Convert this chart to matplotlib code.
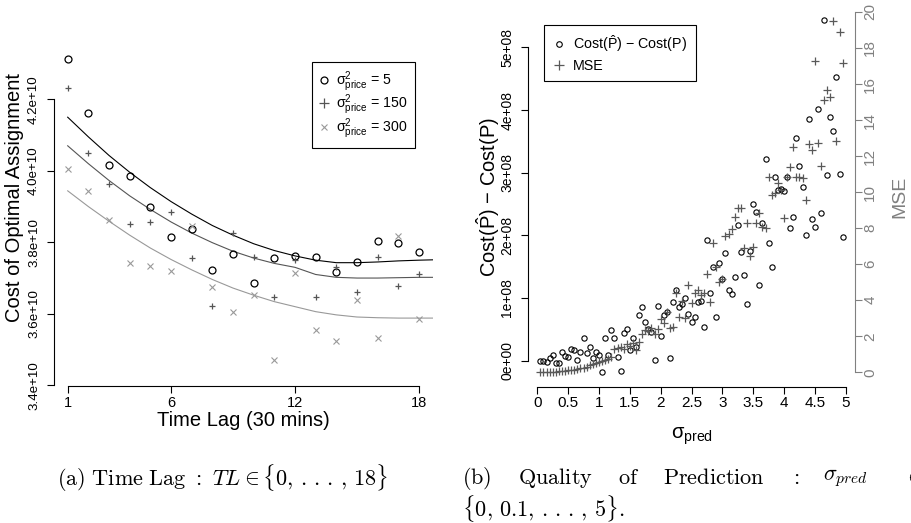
import numpy as np
import matplotlib.pyplot as plt
from matplotlib.lines import Line2D

plt.rcParams['font.family'] = ['Liberation Sans', 'DejaVu Sans']
plt.rcParams['mathtext.fontset'] = 'custom'
plt.rcParams['mathtext.rm'] = 'Liberation Sans'
plt.rcParams['mathtext.it'] = 'Liberation Sans:italic'
plt.rcParams['mathtext.bf'] = 'Liberation Sans:bold'

# ---- (a) time lag, cost in units of 1e10
time_lag = np.arange(1, 19)
cost_var5 = [4.314, 4.161, 4.016, 3.986, 3.900, 3.815, 3.837, 3.723, 3.768,
             3.686, 3.755, 3.763, 3.758, 3.717, 3.744, 3.803, 3.798, 3.774]
cost_var150 = [4.232, 4.050, 3.964, 3.851, 3.857, 3.886, 3.757, 3.623, 3.827,
               3.759, 3.648, 3.751, 3.648, 3.732, 3.662, 3.760, 3.679, 3.710]
cost_var300 = [4.006, 3.944, 3.862, 3.742, 3.734, 3.719, 3.847, 3.674, 3.604,
               3.653, 3.470, 3.715, 3.555, 3.524, 3.638, 3.532, 3.817, 3.585]

# smoothed curves
curve_x = [1, 2, 3, 4, 5, 6, 7, 8, 9, 10, 11, 12, 13, 14, 15, 16, 17, 18, 18.68]
fit_var5 = [4.150, 4.095, 4.043, 3.996, 3.953, 3.914, 3.879, 3.847, 3.820, 3.796,
            3.777, 3.762, 3.750, 3.743, 3.743, 3.745, 3.748, 3.750, 3.751]
fit_var150 = [4.070, 4.020, 3.973, 3.930, 3.892, 3.857, 3.826, 3.799, 3.775, 3.756,
              3.741, 3.730, 3.710, 3.702, 3.700, 3.700, 3.701, 3.702, 3.702]
fit_var300 = [3.944, 3.900, 3.859, 3.820, 3.784, 3.752, 3.723, 3.696, 3.672, 3.652,
              3.634, 3.620, 3.606, 3.597, 3.591, 3.589, 3.588, 3.588, 3.588]

# ---- (b) quality of prediction
sigma_pred = np.round(np.arange(1, 100) * 0.05, 2)
# Cost(P^) - Cost(P), units of 1e8
cost_gap = [0.000, 0.000, -0.016, 0.048, 0.085, -0.032, -0.037, 0.144, 0.075, 0.064,
            0.192, 0.170, 0.016, 0.133, 0.357, 0.117, 0.224, 0.048, 0.144, 0.085,
            -0.176, 0.367, 0.091, 0.490, 0.357, 0.059, -0.160, 0.437, 0.506, 0.176,
            0.367, 0.213, 0.724, 0.863, 0.618, 0.506, 0.450, 0.005, 0.873, 0.389,
            0.735, 0.783, 0.048, 0.943, 1.129, 0.852, 0.905, 1.006, 0.740, 0.618,
            0.698, 0.943, 0.953, 0.543, 1.928, 1.076, 1.502, 0.703, 1.555, 1.299,
            1.725, 1.129, 1.060, 1.337, 2.162, 1.741, 1.368, 0.911, 1.757, 2.508,
            2.370, 1.203, 2.194, 3.216, 1.885, 1.491, 2.929, 2.716, 2.737, 2.710,
            2.934, 2.114, 2.290, 3.557, 3.099, 2.769, 2.013, 3.860, 2.263, 2.130,
            4.020, 2.359, 5.437, 2.961, 3.882, 3.663, 4.521, 2.987, 1.976]
mse = [0.00, 0.00, 0.01, 0.02, 0.03, 0.04, 0.05, 0.06, 0.08, 0.10,
       0.12, 0.15, 0.18, 0.22, 0.26, 0.32, 0.40, 0.45, 0.50, 0.58,
       0.62, 0.70, 0.72, 0.85, 1.30, 1.35, 1.40, 1.30, 1.55, 1.45,
       1.60, 1.25, 1.70, 2.10, 2.35, 2.30, 2.45, 2.15, 2.40, 2.95,
       2.76, 3.37, 2.44, 2.50, 4.38, 3.05, 3.96, 3.00, 4.85, 3.83,
       4.38, 4.57, 4.29, 4.38, 5.46, 3.92, 7.16, 5.86, 5.03, 5.16,
       7.57, 7.66, 7.94, 8.64, 9.10, 9.10, 6.88, 8.31, 6.46, 6.98,
       8.31, 8.83, 8.09, 8.01, 10.82, 9.84, 9.97, 10.49, 10.12, 8.55,
       10.82, 11.38, 12.51, 10.82, 10.82, 10.77, 9.57, 12.67, 12.34, 17.28,
       12.71, 11.47, 15.12, 15.67, 15.30, 19.52, 12.84, 18.87, 17.19]

W, H = 911, 523


def fx(px):
    return px / W


def fy(py):
    return 1 - py / H


fig = plt.figure(figsize=(W / 100, H / 100), dpi=100)

# ------------------------------------------------------------ panel (a)
ax1 = fig.add_axes([fx(54), fy(386), 379 / W, 336 / H])
e10 = 1e10
ax1.plot(curve_x, np.array(fit_var5) * e10, color='black', lw=0.8)
ax1.plot(curve_x, np.array(fit_var150) * e10, color='#555555', lw=0.8)
ax1.plot(curve_x, np.array(fit_var300) * e10, color='#999999', lw=0.8)
ax1.plot(time_lag, np.array(cost_var5) * e10, 'o', ms=5, mfc='none', mec='black', mew=0.9)
ax1.plot(time_lag, np.array(cost_var150) * e10, '+', ms=5, color='#555555', mew=0.9)
ax1.plot(time_lag, np.array(cost_var300) * e10, 'x', ms=4.5, color='#999999', mew=0.8)

ax1.set_xlim(0.337, 18.68)
ax1.set_ylim(3.398e10, 4.338e10)
yt1 = [3.4e10, 3.6e10, 3.8e10, 4.0e10, 4.2e10]
ax1.set_yticks(yt1)
ax1.set_yticklabels([f"{t:.1e}" for t in yt1])
ax1.set_xticks([1, 6, 12, 18])
for s in ['top', 'right']:
    ax1.spines[s].set_visible(False)
ax1.spines['left'].set_bounds(3.4e10, 4.2e10)
ax1.spines['bottom'].set_bounds(1, 18)
ax1.tick_params(axis='x', length=5, width=0.8, labelsize=10.5, pad=2)
ax1.tick_params(axis='y', length=5, width=0.8, labelsize=9.6, pad=5, labelrotation=90)
plt.setp(ax1.get_yticklabels(), va='center')

leg1_handles = [
    Line2D([], [], ls='none', marker='o', ms=5, mfc='none', mec='black', mew=0.9),
    Line2D([], [], ls='none', marker='+', ms=7, color='#555555', mew=0.9),
    Line2D([], [], ls='none', marker='x', ms=5, color='#999999', mew=0.8),
]
leg1_labels = [r"$\mathrm{\sigma}^2_{\mathrm{price}}$ = 5",
               r"$\mathrm{\sigma}^2_{\mathrm{price}}$ = 150",
               r"$\mathrm{\sigma}^2_{\mathrm{price}}$ = 300"]
leg1 = ax1.legend(leg1_handles, leg1_labels, loc='upper right',
                  bbox_to_anchor=(fx(414.5), fy(62)), bbox_transform=fig.transFigure,
                  fontsize=10.2, fancybox=False, framealpha=1, edgecolor='black',
                  handlelength=0.8, handletextpad=0.4, labelspacing=-0.05,
                  borderpad=0.5, borderaxespad=0)
leg1.get_frame().set_linewidth(0.8)

fig.text(fx(15), fy(197), 'Cost of Optimal Assignment', rotation=90,
         ha='center', va='center', fontsize=14.5)
fig.text(fx(243.5), fy(421), 'Time Lag (30 mins)', ha='center', va='center', fontsize=14.5)

# ------------------------------------------------------------ panel (b)
ax2 = fig.add_axes([fx(528.3), fy(386.7), 326.7 / W, 380.7 / H])
ax3 = ax2.twinx()
e8 = 1e8
ax2.plot(sigma_pred, np.array(cost_gap) * e8, 'o', ms=3.8, mfc='none', mec='black', mew=0.8)
ax3.plot(sigma_pred, mse, '+', ms=6, color='#595959', mew=0.9)

ax2.set_xlim(-0.146, 5.15)
ax2.set_ylim(-0.415e8, 5.66e8)
ax3.set_ylim(-0.80, 20.33)
ax2.set_xticks([0, 0.5, 1, 1.5, 2, 2.5, 3, 3.5, 4, 4.5, 5])
ax2.set_xticklabels(['0', '0.5', '1', '1.5', '2', '2.5', '3', '3.5', '4', '4.5', '5'])
yt2 = [0, 1e8, 2e8, 3e8, 4e8, 5e8]
ax2.set_yticks(yt2)
ax2.set_yticklabels([f"{t:.0e}" for t in yt2])
ax3.set_yticks([0, 2, 4, 6, 8, 10, 12, 14, 16, 18, 20])

for s in ['top', 'right']:
    ax2.spines[s].set_visible(False)
for s in ['top', 'left', 'bottom']:
    ax3.spines[s].set_visible(False)
ax2.spines['left'].set_bounds(0, 5e8)
ax2.spines['bottom'].set_bounds(0, 5)
ax3.spines['right'].set_bounds(0, 20)
ax3.spines['right'].set_color('#808080')
ax2.tick_params(axis='x', length=5, width=0.8, labelsize=11, pad=2)
ax2.tick_params(axis='y', length=5, width=0.8, labelsize=10, pad=5, labelrotation=90)
plt.setp(ax2.get_yticklabels(), va='center')
ax3.tick_params(axis='y', length=5, width=0.8, labelsize=11, pad=1, labelrotation=90,
                color='#808080', labelcolor='#808080')
plt.setp(ax3.get_yticklabels(), va='center')

leg2_handles = [
    Line2D([], [], ls='none', marker='o', ms=4, mfc='none', mec='black', mew=0.8),
    Line2D([], [], ls='none', marker='+', ms=7, color='#595959', mew=0.9),
]
leg2_labels = [r"Cost($\hat{\mathrm{P}}$) $-$ Cost(P)", "MSE"]
leg2 = ax3.legend(leg2_handles, leg2_labels, loc='upper left',
                  bbox_to_anchor=(fx(544.3), fy(25)), bbox_transform=fig.transFigure,
                  fontsize=10.3, fancybox=False, framealpha=1, edgecolor='black',
                  handlelength=0.8, handletextpad=0.6, labelspacing=0.3,
                  borderpad=0.6, borderaxespad=0)
leg2.get_frame().set_linewidth(0.8)

fig.text(fx(488), fy(197), r"Cost($\hat{\mathrm{P}}$) $-$ Cost(P)", rotation=90,
         ha='center', va='center', fontsize=14.5)
fig.text(fx(900), fy(197), 'MSE', rotation=90, ha='center', va='center',
         fontsize=14, color='#808080')
fig.text(fx(692), fy(436), r"$\mathrm{\sigma}_{\mathrm{pred}}$", ha='center', va='center',
         fontsize=14.5)

# ------------------------------------------------------------ captions
cap = dict(fontsize=16, va='center', ha='left', math_fontfamily='cm')
fig.text(fx(57), fy(478),
         r"$\mathrm{(a)\ Time\ Lag}\ :\ TL \in \{0,\,.\,.\,.\,,\,18\}$", **cap)
for px, word in [(462, r"$\mathrm{(b)}$"), (518, r"$\mathrm{Quality}$"),
                 (618, r"$\mathrm{of}$"), (663, r"$\mathrm{Prediction}$"),
                 (790, r"$:$"), (823, r"$\sigma_{pred}$"), (904, r"$\in$")]:
    fig.text(fx(px), fy(478), word, **cap)
fig.text(fx(462), fy(509), r"$\{0,\,0.1,\,.\,.\,.\,,\,5\}.$", **cap)

fig.savefig('out.png', dpi=100)
